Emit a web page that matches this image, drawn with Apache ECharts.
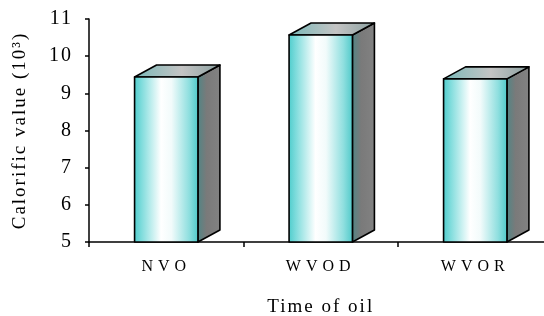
<!DOCTYPE html>
<html>
<head>
<meta charset="utf-8">
<script src="https://cdn.jsdelivr.net/npm/echarts@6/dist/echarts.min.js"></script>
<style>
html,body{margin:0;padding:0;background:#fff;}
#c{width:544px;height:316px;}
</style>
</head>
<body>
<div id="c"></div>
<script>
const categories = ['NVO', 'WVOD', 'WVOR'];
const values = [9.44, 10.57, 9.39];
const yTicks = [5, 6, 7, 8, 9, 10, 11];
const yAxisTitle = 'Calorific value (10\u00B3)';
const xAxisTitle = 'Time of oil';

// wider letter spacing, like the reference typography
(function () {
  const proto = CanvasRenderingContext2D.prototype;
  const desc = Object.getOwnPropertyDescriptor(proto, 'font');
  if (!desc || !('letterSpacing' in proto)) return;
  Object.defineProperty(proto, 'font', {
    configurable: true,
    get() { return desc.get.call(this); },
    set(v) {
      desc.set.call(this, v);
      this.letterSpacing = /(^|\s)16px/.test(v) ? '5px' : '2px';
    }
  });
})();

const FONT = '"Liberation Serif", "Times New Roman", serif';
const chart = echarts.init(document.getElementById('c'), null, {renderer: 'canvas'});

const frontGrad = new echarts.graphic.LinearGradient(0, 0, 1, 0, [
  {offset: 0, color: '#4ccccc'},
  {offset: 0.12, color: '#7fdcdc'},
  {offset: 0.42, color: '#ffffff'},
  {offset: 0.58, color: '#f2fbfb'},
  {offset: 0.85, color: '#8fdfdf'},
  {offset: 1, color: '#4cc8c8'}
]);
const topGrad = new echarts.graphic.LinearGradient(0, 0, 1, 0, [
  {offset: 0, color: '#78b8b8'},
  {offset: 0.55, color: '#c4c4c4'},
  {offset: 1, color: '#8aa0a0'}
]);
const sideGrad = new echarts.graphic.LinearGradient(0, 0, 1, 0, [
  {offset: 0, color: '#4f8686'},
  {offset: 0.4, color: '#7a7a7a'},
  {offset: 1, color: '#828282'}
]);

function renderItem(params, api) {
  const top = api.coord([api.value(0), api.value(1)]);
  const base = api.coord([api.value(0), yTicks[0]]);
  const bw = api.size([1, 0])[0] * 0.41;
  const dx = 22, dy = 12;
  const x0 = top[0] - bw / 2, x1 = top[0] + bw / 2;
  const yt = top[1], yb = base[1];
  const line = {stroke: '#000', lineWidth: 1.6, lineJoin: 'round'};
  return {
    type: 'group',
    children: [
      {type: 'polygon', shape: {points: [[x1, yt], [x1 + dx, yt - dy], [x1 + dx, yb - dy], [x1, yb]]},
        style: Object.assign({fill: sideGrad}, line)},
      {type: 'polygon', shape: {points: [[x0, yt], [x0 + dx, yt - dy], [x1 + dx, yt - dy], [x1, yt]]},
        style: Object.assign({fill: topGrad}, line)},
      {type: 'rect', shape: {x: x0, y: yt, width: bw, height: yb - yt},
        style: Object.assign({fill: frontGrad}, line)}
    ]
  };
}

chart.setOption({
  animation: false,
  backgroundColor: '#fff',
  grid: {left: 89, right: -8.5, top: 19, bottom: 74, containLabel: false, outerBoundsMode: 'none'},
  xAxis: {
    type: 'category',
    data: categories,
    boundaryGap: true,
    name: xAxisTitle,
    nameLocation: 'middle',
    nameGap: 55,
    nameTextStyle: {fontFamily: FONT, fontSize: 19, color: '#000'},
    axisLine: {lineStyle: {color: '#000', width: 1.5}},
    axisTick: {show: true, length: 5, interval: 0, lineStyle: {color: '#000', width: 1.5}},
    axisLabel: {margin: 14, fontFamily: FONT, fontSize: 16, color: '#000'},
    splitLine: {show: false}
  },
  yAxis: {
    type: 'value',
    min: yTicks[0],
    max: yTicks[yTicks.length - 1],
    interval: 1,
    name: yAxisTitle,
    nameLocation: 'middle',
    nameGap: 58,
    nameTextStyle: {fontFamily: FONT, fontSize: 19, color: '#000'},
    axisLine: {show: true, lineStyle: {color: '#000', width: 1.5}},
    axisTick: {show: true, length: 4, lineStyle: {color: '#000', width: 1.5}},
    axisLabel: {margin: 16, fontFamily: FONT, fontSize: 20, color: '#000'},
    splitLine: {show: false}
  },
  series: [{
    type: 'custom',
    renderItem: renderItem,
    encode: {x: 0, y: 1},
    data: categories.map((c, i) => [i, values[i]]),
    clip: false
  }]
});
</script>
</body>
</html>
